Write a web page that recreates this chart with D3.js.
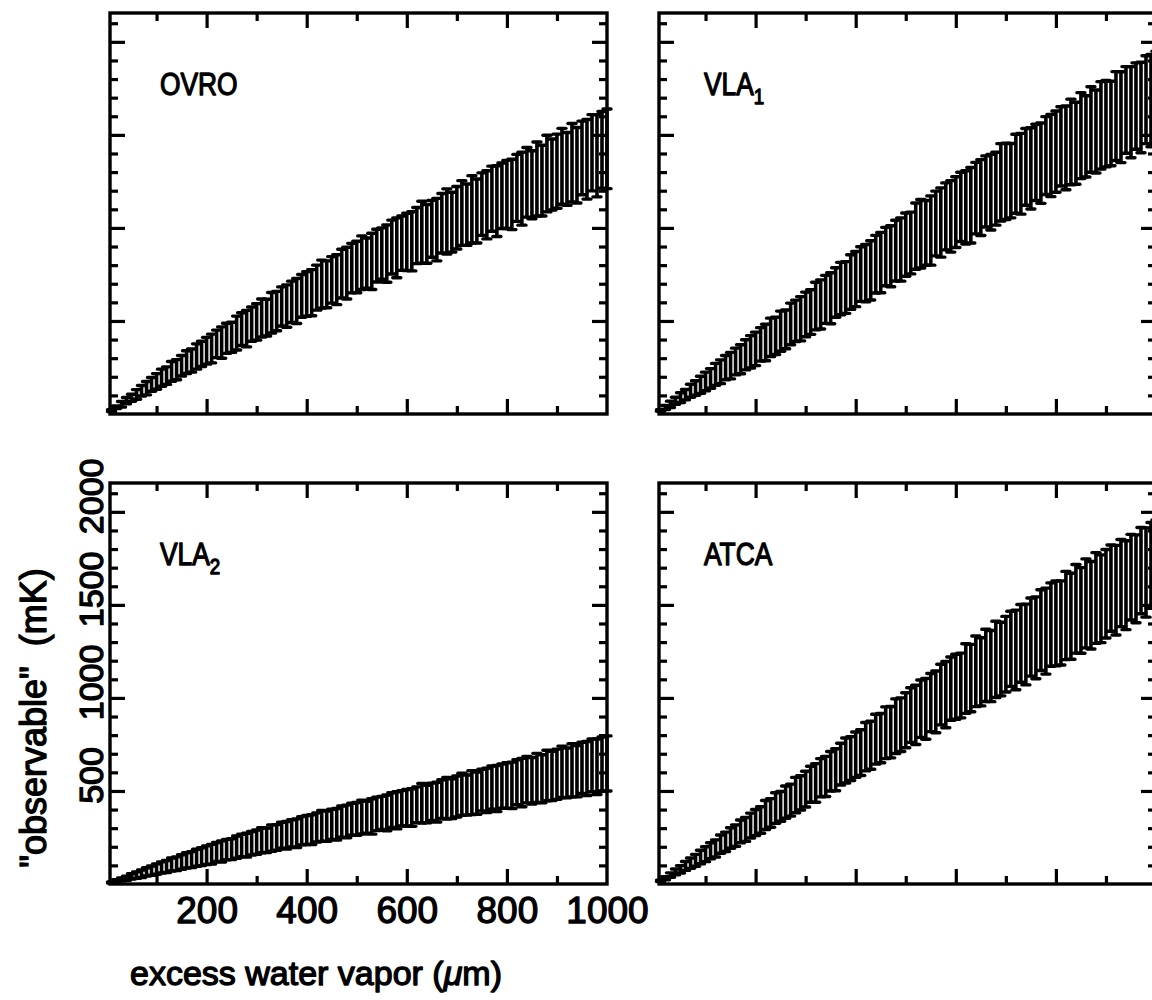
<!DOCTYPE html>
<html>
<head>
<meta charset="utf-8">
<script src="https://cdn.jsdelivr.net/npm/d3@7"></script>
<style>
  html, body { margin: 0; padding: 0; background: #fff; }
  svg { display: block; }
  /* the plot lettering is a stroked font: regular face with a round outline */
  text {
    font-family: "Liberation Sans", Arial, sans-serif;
    fill: #000;
    stroke: #000;
    stroke-width: 1.3px;
    stroke-linejoin: round;
  }
</style>
</head>
<body>
<svg id="chart" width="1152" height="1000"></svg>
<script>
// excess water vapor (um), one error bar every 10 um
const waterVapor = d3.range(10, 1001, 10);

// "observable" (mK) : centre and half-error of each bar
const ovroCenter = [18,36,52,72,87,105,125,139,159,175, 195,206,229,238,259,279,287,309,323,340,
  352,377,384,407,412,435,456,459,483,495, 516,518,544,553,578,580,603,607,635,645,
  652,679,698,697,721,722,754,757,784,790, 813,811,820,851,862,862,897,893,918,925,
  928,959,977,968,995,991,1025,1035,1031,1055, 1080,1071,1100,1091,1128,1124,1157,1144,1173,1180,
  1180,1215,1211,1245,1232,1263,1254,1292,1287,1305, 1331,1317,1350,1337,1376,1369,1404,1388,1420,1425];
const ovroErr = [5,7,15,17,19,26,28,36,37,42, 46,47,53,54,55,61,62,68,68,72,
  77,74,84,81,81,91,88,98,92,98, 102,99,109,106,105,114,111,121,115,120,
  124,121,129,126,125,134,131,139,133,138, 144,135,151,142,138,154,145,161,146,154,
  159,151,166,158,153,168,160,175,161,168, 174,165,181,172,168,183,175,190,176,183,
  189,180,196,187,183,199,190,206,191,199, 204,196,211,203,198,214,205,221,206,214];

const vla1Center = [19,35,52,71,88,104,125,140,157,175, 191,213,227,249,260,282,294,318,334,350,
  374,384,412,420,445,455,484,501,512,535, 548,580,589,616,622,653,674,680,709,725,
  752,757,772,805,814,846,848,878,884,910, 919,956,969,973,986,1024,1029,1062,1062,1085,
  1113,1110,1122,1160,1163,1196,1192,1211,1245,1250, 1254,1291,1291,1328,1320,1352,1348,1389,1389,1410,
  1438,1430,1462,1455,1496,1492,1529,1518,1551,1560, 1561,1601,1595,1634,1622,1655,1647,1689,1684,1705];
const vla1Err = [4,11,17,19,26,28,35,39,46,50, 53,59,64,65,71,72,78,81,87,90,
  90,98,103,100,108,104,112,111,119,120, 120,128,132,129,137,133,141,139,147,148,
  147,154,159,155,162,157,164,163,170,170, 166,178,184,174,186,174,186,180,192,190,
  186,197,203,192,204,191,203,196,208,205, 200,212,217,206,218,205,216,209,221,218,
  213,225,230,220,231,218,230,223,235,232, 227,239,244,233,245,232,243,236,248,245];

const vla2Center = [8,17,24,31,41,48,55,65,72,80, 89,94,105,109,118,127,131,141,147,155,
  160,172,175,185,187,198,207,209,219,225, 235,235,247,250,262,262,272,273,286,290,
  292,304,312,311,321,321,335,336,348,350, 360,359,363,377,382,382,397,396,407,410,
  411,426,434,430,442,440,456,461,459,470, 482,478,491,488,505,503,518,513,526,530,
  530,547,545,561,555,570,566,583,581,590, 603,597,611,606,624,621,638,630,645,648];
const vla2Err = [3,6,8,11,14,17,20,22,25,28, 30,32,35,37,39,41,43,46,48,50,
  53,51,57,55,56,60,60,64,63,65, 67,66,71,69,70,74,73,77,76,78,
  80,78,83,81,81,85,84,88,86,88, 91,86,95,90,89,96,93,100,95,98,
  101,96,106,101,100,107,104,112,107,110, 113,108,118,113,112,119,116,124,119,122,
  125,121,130,125,125,132,129,136,132,135, 138,134,143,138,138,145,142,149,145,148];

const atcaCenter = [17,31,48,65,79,97,112,127,145,160, 179,191,214,227,247,260,283,293,314,330,
  344,371,382,408,417,440,451,478,490,510, 536,543,571,578,606,614,644,664,674,695,
  706,738,746,778,784,813,816,848,856,880, 908,909,942,941,975,979,1018,1018,1050,1060,
  1067,1104,1107,1143,1140,1175,1171,1207,1209,1235, 1264,1258,1293,1287,1327,1323,1364,1359,1394,1400,
  1403,1443,1439,1479,1470,1508,1498,1537,1533,1560, 1590,1579,1617,1606,1649,1640,1684,1674,1712,1722];
const atcaErr = [4,8,12,16,20,24,28,32,36,40, 43,46,49,52,55,58,61,64,67,70,
  71,78,77,82,80,87,86,95,92,96, 97,104,103,108,106,113,112,121,118,122,
  123,130,129,134,132,139,138,147,144,148, 147,159,154,163,156,166,163,178,170,175,
  174,187,181,190,183,194,191,205,198,203, 202,214,209,217,210,220,217,231,224,228,
  226,237,231,238,230,239,235,244,236,238, 232,241,234,239,230,236,232,240,231,234];

// ticks and tick labels
const xMajorTicks = [200, 400, 600, 800];
const xMinorTicks = [100, 300, 500, 700, 900];
const xTickLabels = [200, 400, 600, 800, 1000];
const yMajorTicks = [500, 1000, 1500, 2000];
const yMinorTicks = [100, 200, 300, 400, 600, 700, 800, 900, 1100, 1200, 1300, 1400,
  1600, 1700, 1800, 1900, 2100];
const yTickLabels = [500, 1000, 1500, 2000];

// panel names
const panelNames = ['OVRO', 'VLA', 'VLA', 'ATCA'];
const panelSubs = ['', '1', '2', ''];

const svg = d3.select('#chart');

const panelW = 497;
const panelH = 401;

const panels = [
  { left: 110, top: 13, center: ovroCenter, err: ovroErr },
  { left: 659, top: 13, center: vla1Center, err: vla1Err },
  { left: 110, top: 483, center: vla2Center, err: vla2Err },
  { left: 659, top: 483, center: atcaCenter, err: atcaErr }
];

const x = d3.scaleLinear().domain([7, 1000]).range([0, panelW]);
const y = d3.scaleLinear().domain([0, 2155]).range([panelH, 0]);

function tickAxis(g, axis, values, size) {
  g.call(axis.tickValues(values).tickSize(-size).tickFormat(''))
    .call(a => a.select('.domain').remove());
  g.selectAll('line')
    .attr('stroke', '#000')
    .attr('stroke-width', 3.2);
}

function drawTicks(g) {
  [[xMajorTicks, 15], [xMinorTicks, 8]].forEach(([vals, s]) => {
    g.append('g').attr('transform', `translate(0,${panelH})`)
      .call(a => tickAxis(a, d3.axisBottom(x), vals, s));
    g.append('g')
      .call(a => tickAxis(a, d3.axisTop(x), vals, s));
  });
  [[yMajorTicks, 15], [yMinorTicks, 8]].forEach(([vals, s]) => {
    g.append('g')
      .call(a => tickAxis(a, d3.axisLeft(y), vals, s));
    g.append('g').attr('transform', `translate(${panelW},0)`)
      .call(a => tickAxis(a, d3.axisRight(y), vals, s));
  });
}

panels.forEach((p, k) => {
  const g = svg.append('g').attr('transform', `translate(${p.left},${p.top})`);

  // error bars
  const bars = g.append('g').attr('stroke', '#000');
  waterVapor.forEach((w, i) => {
    const cx = x(w);
    const hi = y(p.center[i] + p.err[i]);
    const lo = y(p.center[i] - p.err[i]);
    bars.append('line')
      .attr('x1', cx).attr('x2', cx)
      .attr('y1', hi).attr('y2', lo)
      .attr('stroke-width', 3.6);
    [hi, lo].forEach(yy => {
      bars.append('line')
        .attr('x1', cx - 4).attr('x2', cx + 4)
        .attr('y1', yy).attr('y2', yy)
        .attr('stroke-width', 3.4)
        .attr('stroke-linecap', 'round');
    });
  });

  drawTicks(g);

  g.append('rect')
    .attr('width', panelW)
    .attr('height', panelH)
    .attr('fill', 'none')
    .attr('stroke', '#000')
    .attr('stroke-width', 3.4);

  // panel name, narrowed like the plot's own lettering
  const label = g.append('text')
    .attr('transform', `translate(${k % 2 === 0 ? 50 : 45},82) scale(0.85,1)`)
    .attr('font-size', 31)
    .text(panelNames[k]);
  if (panelSubs[k]) {
    label.append('tspan')
      .attr('dy', 9)
      .attr('font-size', 22)
      .text(panelSubs[k]);
  }

  // tick labels on the lower-left panel only
  if (k === 2) {
    g.append('g')
      .attr('transform', `translate(0,${panelH})`)
      .call(d3.axisBottom(x).tickValues(xTickLabels).tickSize(0).tickPadding(13).tickFormat(d3.format('d')))
      .call(a => a.select('.domain').remove())
      .selectAll('text')
      .attr('font-size', 37)
      .attr('dy', '0.71em');

    g.append('g')
      .call(d3.axisLeft(y).tickValues(yTickLabels).tickSize(0).tickFormat(d3.format('d')))
      .call(a => a.select('.domain').remove())
      .selectAll('text')
      .attr('font-size', 34)
      .attr('text-anchor', 'middle')
      .attr('transform', 'rotate(-90)')
      .attr('x', 16)
      .attr('y', -7)
      .attr('dy', 0);
  }
});

// axis titles
const xTitle = svg.append('text')
  .attr('x', 316)
  .attr('y', 985)
  .attr('text-anchor', 'middle')
  .attr('font-size', 34)
  .text('excess water vapor (');
xTitle.append('tspan').attr('font-style', 'italic').text('\u03bc');
xTitle.append('tspan').text('m)');

svg.append('text')
  .attr('transform', 'translate(46,718) rotate(-90)')
  .attr('text-anchor', 'middle')
  .attr('font-size', 36)
  .style('white-space', 'pre')
  .text('"observable"  (mK)');
</script>
</body>
</html>
